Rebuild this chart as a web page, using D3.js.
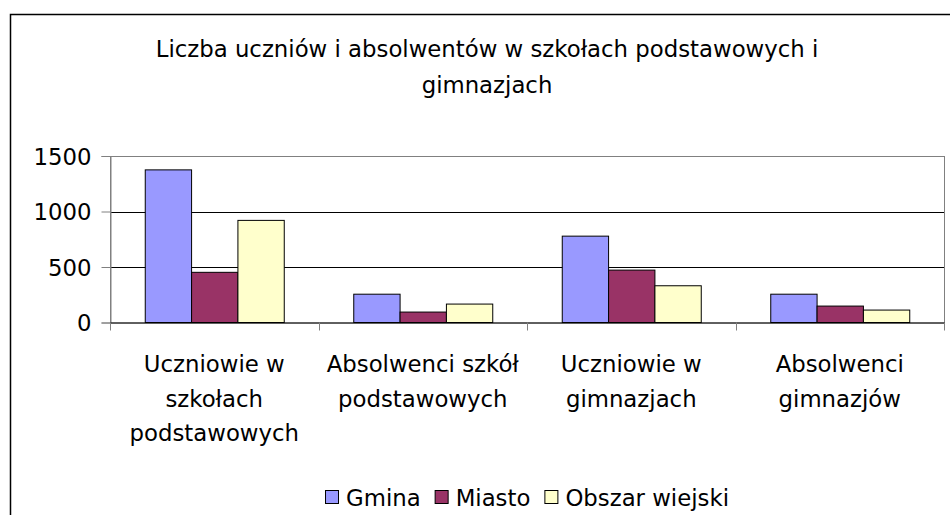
<!DOCTYPE html>
<html>
<head>
<meta charset="utf-8">
<script src="https://cdn.jsdelivr.net/npm/d3@7"></script>
<style>
  body { margin: 0; background: #fff; }
  svg text { font-family: "DejaVu Sans", Verdana, sans-serif; fill: #000; }
</style>
</head>
<body>
<div id="chart"></div>
<script>
// data
const categories = [
  ["Uczniowie w", "szkołach", "podstawowych"],
  ["Absolwenci szkół", "podstawowych"],
  ["Uczniowie w", "gimnazjach"],
  ["Absolwenci", "gimnazjów"]
]
const seriesNames = ["Gmina", "Miasto", "Obszar wiejski"]
const gmina = [1375, 255, 778, 255]
const miasto = [452, 94, 472, 148]
const obszarWiejski = [920, 166, 331, 112]
const yTicks = [0, 500, 1000, 1500]
const titleLines = ["Liczba uczniów i absolwentów w szkołach podstawowych i", "gimnazjach"]

const colors = ["#9999FF", "#993366", "#FFFFCC"]
const seriesValues = [gmina, miasto, obszarWiejski]

const W = 950, H = 515
const FS = 22.8

const svg = d3.select("#chart").append("svg")
  .attr("width", W)
  .attr("height", H)

// outer chart border (runs off the right and bottom edge)
svg.append("rect")
  .attr("x", 10.5).attr("y", 14.5)
  .attr("width", 960).attr("height", 520)
  .attr("fill", "#fff")
  .attr("stroke", "#000")
  .attr("stroke-width", 1.5)

// title
svg.append("g").selectAll("text")
  .data(titleLines)
  .enter().append("text")
    .attr("x", 487)
    .attr("y", (d, i) => 57 + i * 36)
    .attr("text-anchor", "middle")
    .attr("font-size", FS + "px")
    .text(d => d)

const PLOT = { LEFT: 110, RIGHT: 944, TOP: 156, BOTTOM: 322.5 }

const x0 = d3.scaleBand()
  .domain(d3.range(categories.length))
  .range([PLOT.LEFT, PLOT.RIGHT])

const bw = x0.bandwidth() / 4.5
const x1 = d3.scaleBand()
  .domain(d3.range(seriesNames.length))
  .range([0.75 * bw, 3.75 * bw])

const y = d3.scaleLinear()
  .domain([0, 1500])
  .range([PLOT.BOTTOM, PLOT.TOP])

// gridlines
svg.append("g").selectAll("line")
  .data(yTicks.filter(d => d > 0 && d < 1500))
  .enter().append("line")
    .attr("x1", PLOT.LEFT).attr("x2", PLOT.RIGHT)
    .attr("y1", d => Math.round(y(d)) + 0.5)
    .attr("y2", d => Math.round(y(d)) + 0.5)
    .attr("stroke", "#000")

// plot area border
svg.append("rect")
  .attr("x", PLOT.LEFT + 0.5).attr("y", PLOT.TOP + 0.5)
  .attr("width", PLOT.RIGHT - PLOT.LEFT)
  .attr("height", PLOT.BOTTOM - PLOT.TOP)
  .attr("fill", "none")
  .attr("stroke", "#808080")

// y axis
const yAxis = svg.append("g")
  .attr("transform", `translate(${PLOT.LEFT + 0.5}, 0)`)
  .call(d3.axisLeft(y).tickValues(yTicks).tickSize(9).tickPadding(10).tickFormat(d3.format("d")))
yAxis.select(".domain").attr("stroke", "#808080")
yAxis.selectAll(".tick line").attr("stroke", "#808080")
yAxis.selectAll("text")
  .attr("font-size", FS + "px")
  .attr("font-family", "DejaVu Sans")
  .attr("dy", "0.36em")

// bars
const groups = svg.append("g").selectAll("g")
  .data(categories)
  .enter().append("g")
    .attr("transform", (d, i) => `translate(${x0(i)}, 0)`)

groups.selectAll("rect")
  .data((d, i) => seriesValues.map((s, j) => ({ series: j, value: s[i] })))
  .enter().append("rect")
    .attr("x", d => x1(d.series) + 0.5)
    .attr("y", d => y(d.value))
    .attr("width", x1.bandwidth())
    .attr("height", d => PLOT.BOTTOM - y(d.value))
    .attr("fill", d => colors[d.series])
    .attr("stroke", "#000")
    .attr("stroke-width", 1)

// x axis line + ticks
svg.append("line")
  .attr("x1", PLOT.LEFT).attr("x2", PLOT.RIGHT + 1)
  .attr("y1", PLOT.BOTTOM + 0.5).attr("y2", PLOT.BOTTOM + 0.5)
  .attr("stroke", "#000")

svg.append("g").selectAll("line")
  .data(d3.range(categories.length + 1))
  .enter().append("line")
    .attr("x1", i => Math.round(PLOT.LEFT + i * x0.bandwidth()) + 0.5)
    .attr("x2", i => Math.round(PLOT.LEFT + i * x0.bandwidth()) + 0.5)
    .attr("y1", PLOT.BOTTOM)
    .attr("y2", PLOT.BOTTOM + 8)
    .attr("stroke", "#808080")

// category labels
const labels = svg.append("g").selectAll("text")
  .data(categories)
  .enter().append("text")
    .attr("text-anchor", "middle")
    .attr("font-size", FS + "px")
    .attr("transform", (d, i) => `translate(${x0(i) + x0.bandwidth() / 2}, 0)`)

labels.selectAll("tspan")
  .data(d => d)
  .enter().append("tspan")
    .attr("x", 0)
    .attr("y", (d, i) => 372 + i * 34.5)
    .text(d => d)

// legend, laid out from the measured text widths
const legend = svg.append("g")
const legendItem = legend.selectAll("g")
  .data(seriesNames)
  .enter().append("g")

legendItem.append("rect")
  .attr("x", 0.5).attr("y", 0.5)
  .attr("width", 13).attr("height", 13)
  .attr("fill", (d, i) => colors[i])
  .attr("stroke", "#000")

legendItem.append("text")
  .attr("x", 21)
  .attr("y", 15.5)
  .attr("font-size", FS + "px")
  .text(d => d)

let offset = 0
legendItem.each(function () {
  const item = d3.select(this)
  item.attr("transform", `translate(${offset}, 0)`)
  offset += 21 + item.select("text").node().getComputedTextLength() + 14
})
const legendW = offset - 14
legend.attr("transform", `translate(${527 - legendW / 2}, 490)`)
</script>
</body>
</html>
